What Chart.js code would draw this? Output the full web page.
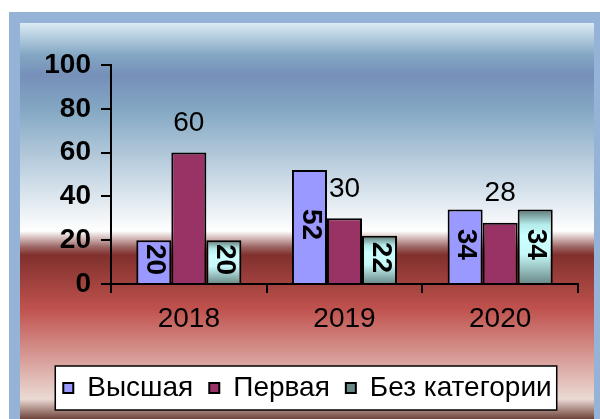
<!DOCTYPE html>
<html><head><meta charset="utf-8">
<script src="https://cdn.jsdelivr.net/npm/chart.js@4/dist/chart.umd.min.js"></script>
<style>html,body{margin:0;padding:0;background:#fff}canvas{display:block}</style>
</head><body>
<canvas id="c" width="600" height="419"></canvas>
<script>
const categories = ['2018', '2019', '2020'];
const seriesNames = ['Высшая', 'Первая', 'Без категории'];
const vysshaya = [20, 52, 34];
const pervaya = [60, 30, 28];
const bezKategorii = [20, 22, 34];
const yTicks = [0, 20, 40, 60, 80, 100];

const FONT = "'Liberation Sans', Arial, sans-serif";

function bezFill(ctx) {
  const chart = ctx.chart;
  if (ctx.type !== 'data' || !chart.scales || !chart.scales.y) return '#bfeeee';
  const y = chart.scales.y;
  const top = y.getPixelForValue(ctx.raw), bottom = y.getPixelForValue(0);
  if (!isFinite(top) || !isFinite(bottom) || top === bottom) return '#bfeeee';
  const g = chart.ctx.createLinearGradient(0, top, 0, bottom);
  g.addColorStop(0, '#5a7674');
  g.addColorStop(0.2, '#b4eaea');
  g.addColorStop(0.35, '#ccffff');
  g.addColorStop(0.6, '#c6f8f8');
  g.addColorStop(1, '#688886');
  return g;
}

const bgPlugin = {
  id: 'bg',
  beforeDraw(chart) {
    const c = chart.ctx, W = chart.width, H = chart.height;
    c.save();
    c.fillStyle = '#ffffff'; c.fillRect(0, 0, W, H);
    c.fillStyle = '#95b3d7'; c.fillRect(9, 12, W - 9, H - 12);
    const g = c.createLinearGradient(0, 23, 0, 423);
    [[0, '#dcebf5'], [0.08, '#83a7c3'], [0.13, '#768fb9'], [0.215, '#83a7c3'], [0.52, '#ffffff'],
     [0.56, '#9c6563'], [0.58, '#80302d'], [0.715, '#c0524e'], [0.94, '#ebdad4'], [1, '#55261c']]
      .forEach(s => g.addColorStop(s[0], s[1]));
    c.fillStyle = g; c.fillRect(20, 23, 574, H - 23);
    const lg = chart.legend;
    if (lg && lg.legendHitBoxes && lg.legendHitBoxes.length) {
      const hb = lg.legendHitBoxes;
      const l = Math.min(...hb.map(b => b.left)) - 8;
      const r = Math.max(...hb.map(b => b.left + b.width)) + 5;
      const cy = hb[0].top + hb[0].height / 2;
      c.fillStyle = '#ffffff';
      c.fillRect(l, cy - 22, r - l, 44);
      c.strokeStyle = '#000'; c.lineWidth = 1.5;
      c.strokeRect(l, cy - 22, r - l, 44);
    }
    c.restore();
  }
};

const labelPlugin = {
  id: 'valLabels',
  afterDatasetsDraw(chart) {
    const c = chart.ctx;
    chart.data.datasets.forEach((ds, di) => {
      const meta = chart.getDatasetMeta(di);
      meta.data.forEach((bar, i) => {
        const v = ds.data[i];
        c.save();
        c.fillStyle = '#000';
        c.textAlign = 'center'; c.textBaseline = 'middle';
        if (di === 1) {
          c.font = '28px ' + FONT;
          c.fillText(String(v), bar.x, bar.y - 29);
        } else {
          c.font = 'bold 28px ' + FONT;
          c.translate(bar.x + 1, (bar.y + bar.base) / 2 - 2);
          c.rotate(Math.PI / 2);
          c.fillText(String(v), 0, 0);
        }
        c.restore();
      });
    });
  }
};

new Chart(document.getElementById('c'), {
  type: 'bar',
  data: {
    labels: categories,
    datasets: [
      { label: seriesNames[0], data: vysshaya, backgroundColor: '#9999ff', borderColor: '#000', borderWidth: 2 },
      { label: seriesNames[1], data: pervaya, backgroundColor: '#993366', borderColor: '#000', borderWidth: 2 },
      { label: seriesNames[2], data: bezKategorii, backgroundColor: bezFill, borderColor: '#000', borderWidth: 2 }
    ]
  },
  options: {
    responsive: false,
    animation: false,
    devicePixelRatio: 1,
    categoryPercentage: 0.675,
    barPercentage: 1.0,
    layout: { padding: { left: 37, top: 65, right: 22, bottom: 7 } },
    plugins: {
      legend: {
        position: 'bottom',
        labels: {
          color: '#000', boxWidth: 10, boxHeight: 10, padding: 16,
          font: { family: FONT, size: 28 }
        }
      },
      tooltip: { enabled: false }
    },
    scales: {
      x: {
        grid: { display: true, drawOnChartArea: false, drawTicks: true, tickLength: 9, color: '#000', lineWidth: 2, offset: true },
        border: { display: true, color: '#000', width: 2 },
        ticks: { color: '#000', font: { family: FONT, size: 28 }, padding: 9, maxRotation: 0 },
        afterFit(scale) { scale.height = 74; }
      },
      y: {
        min: 0, max: 100,
        grid: { display: true, drawOnChartArea: false, drawTicks: true, tickLength: 10, color: '#000', lineWidth: 2 },
        border: { display: true, color: '#000', width: 2 },
        ticks: { color: '#000', font: { family: FONT, size: 28, weight: 'bold' }, padding: 10 },
        afterBuildTicks(scale) { scale.ticks = yTicks.map(v => ({ value: v })); },
        afterFit(scale) { scale.width = 74; }
      }
    }
  },
  plugins: [bgPlugin, labelPlugin]
});
</script>
</body></html>
